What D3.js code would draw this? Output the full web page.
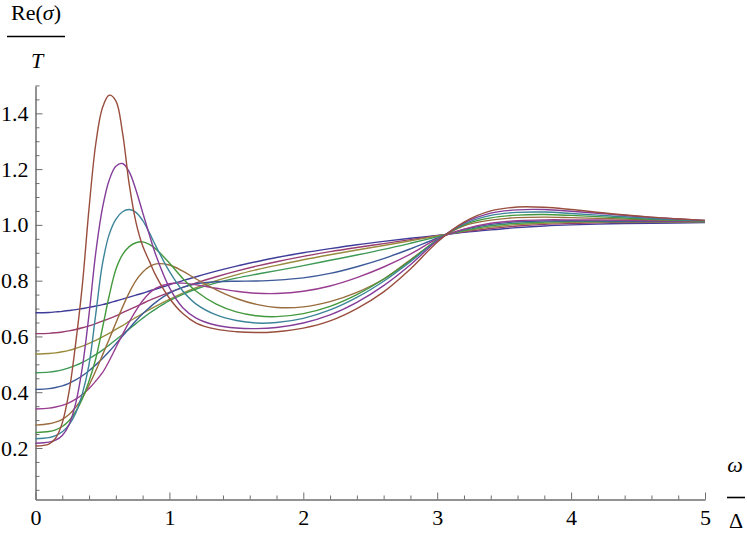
<!DOCTYPE html>
<html><head><meta charset="utf-8">
<script src="https://cdn.jsdelivr.net/npm/d3@7"></script>
<style>html,body{margin:0;padding:0;background:#fff;}svg{display:block;} text{font-family:"Liberation Serif","DejaVu Serif",serif;}</style>
</head><body>
<svg id="chart" width="747" height="533"></svg>
<script>
// x grid (ω/Δ)
const xs = [0,0.1,0.15,0.2,0.25,0.3,0.35,0.4,0.45,0.5,0.55,0.6,0.65,0.7,0.75,0.8,0.85,0.9,1.0,1.1,1.2,1.35,1.5,1.65,1.8,2.0,2.2,2.4,2.6,2.8,3.0,3.2,3.4,3.6,3.8,4.0,4.3,4.6,5.0];
// Re(σ)/T series
const s1 = [0.685,0.686,0.688,0.69,0.693,0.696,0.7,0.704,0.709,0.714,0.72,0.727,0.734,0.741,0.748,0.755,0.763,0.77,0.785,0.8,0.814,0.834,0.852,0.868,0.883,0.9,0.915,0.929,0.941,0.952,0.962,0.973,0.982,0.99,0.996,1.0,1.004,1.006,1.008];
const s2 = [0.61,0.611,0.613,0.616,0.62,0.625,0.631,0.638,0.646,0.655,0.664,0.674,0.685,0.696,0.707,0.718,0.729,0.739,0.758,0.776,0.792,0.814,0.834,0.852,0.868,0.887,0.904,0.919,0.933,0.947,0.961,0.975,0.987,0.996,1.002,1.005,1.008,1.009,1.01];
const s3 = [0.537,0.539,0.541,0.545,0.55,0.557,0.565,0.575,0.586,0.598,0.611,0.625,0.639,0.654,0.668,0.682,0.696,0.709,0.733,0.755,0.775,0.8,0.821,0.839,0.855,0.875,0.893,0.91,0.926,0.943,0.96,0.978,0.992,1.001,1.006,1.009,1.011,1.011,1.011];
const s4 = [0.47,0.472,0.475,0.48,0.487,0.496,0.507,0.52,0.535,0.551,0.569,0.588,0.607,0.627,0.646,0.665,0.683,0.699,0.728,0.751,0.77,0.792,0.809,0.823,0.836,0.854,0.873,0.892,0.912,0.934,0.957,0.98,0.997,1.006,1.01,1.012,1.012,1.012,1.012];
const s5 = [0.41,0.413,0.417,0.423,0.432,0.444,0.459,0.477,0.498,0.521,0.546,0.573,0.601,0.629,0.656,0.681,0.703,0.723,0.755,0.776,0.789,0.796,0.798,0.799,0.802,0.81,0.826,0.85,0.879,0.914,0.952,0.984,1.002,1.011,1.014,1.015,1.014,1.013,1.012];
const s6 = [0.34,0.343,0.347,0.353,0.362,0.375,0.392,0.413,0.44,0.47,0.512,0.56,0.607,0.652,0.693,0.728,0.755,0.773,0.789,0.791,0.785,0.773,0.762,0.755,0.754,0.762,0.781,0.811,0.849,0.895,0.95,0.985,1.006,1.015,1.018,1.018,1.017,1.015,1.013];
const s7 = [0.282,0.287,0.293,0.303,0.32,0.346,0.38,0.425,0.477,0.533,0.59,0.648,0.705,0.757,0.8,0.83,0.85,0.86,0.856,0.834,0.806,0.767,0.736,0.715,0.704,0.706,0.725,0.758,0.806,0.875,0.945,0.997,1.017,1.026,1.028,1.026,1.022,1.018,1.014];
const s8 = [0.255,0.259,0.265,0.277,0.298,0.33,0.377,0.44,0.52,0.63,0.745,0.84,0.893,0.922,0.936,0.939,0.93,0.913,0.863,0.808,0.762,0.716,0.688,0.674,0.671,0.682,0.708,0.75,0.805,0.872,0.946,1.0,1.025,1.035,1.037,1.034,1.027,1.02,1.014];
const s9 = [0.233,0.237,0.244,0.258,0.283,0.325,0.395,0.5,0.68,0.86,0.965,1.02,1.047,1.055,1.045,1.016,0.972,0.923,0.833,0.763,0.716,0.677,0.657,0.648,0.65,0.665,0.695,0.74,0.798,0.868,0.945,1.003,1.034,1.045,1.046,1.041,1.032,1.023,1.015];
const s10 = [0.217,0.221,0.228,0.245,0.283,0.36,0.49,0.68,0.9,1.06,1.16,1.21,1.22,1.19,1.125,1.045,0.965,0.89,0.775,0.703,0.666,0.64,0.63,0.628,0.632,0.648,0.677,0.722,0.782,0.857,0.943,1.007,1.042,1.054,1.055,1.049,1.038,1.027,1.016];
const s11 = [0.207,0.214,0.235,0.29,0.4,0.575,0.785,1.06,1.29,1.42,1.465,1.445,1.33,1.145,1.01,0.925,0.87,0.817,0.737,0.682,0.648,0.626,0.617,0.614,0.617,0.63,0.656,0.7,0.76,0.842,0.938,1.01,1.05,1.064,1.063,1.055,1.04,1.028,1.016];
const seriesList = [s1,s2,s3,s4,s5,s6,s7,s8,s9,s10,s11];
const colors = ["#3f3d99","#993d71","#998b3d","#3d9956","#3d5a99","#993d90","#996d3d","#43993d","#3d8499","#843d99","#994e3d"];
const xMajorTicks = [0,1,2,3,4,5];
const yMajorTicks = [0.2,0.4,0.6,0.8,1.0,1.2,1.4];
const xDomain = [0,5];
const yDomain = [0.0153,1.498];

const svg = d3.select("#chart");
const x = d3.scaleLinear().domain(xDomain).range([35.5,705]);
const y = d3.scaleLinear().domain(yDomain).range([499.5,86]);
const axisColor = "#6e6e6e";
const font = '"Liberation Serif","DejaVu Serif",serif';

// minor ticks
const xMinor = d3.range(0,5.0001,0.2).map(v=>+v.toFixed(2)).filter(v=>!xMajorTicks.includes(v));
const yMinor = d3.range(0.05,1.5001,0.05).map(v=>+v.toFixed(2)).filter(v=>!yMajorTicks.includes(v));

const gxMinor = svg.append("g").attr("transform",`translate(0,${y.range()[0]})`)
  .call(d3.axisBottom(x).tickValues(xMinor).tickSizeInner(-4).tickSizeOuter(0).tickFormat(""));
const gx = svg.append("g").attr("transform",`translate(0,${y.range()[0]})`)
  .call(d3.axisBottom(x).tickValues(xMajorTicks).tickSizeInner(-7).tickSizeOuter(0).tickPadding(10).tickFormat(d3.format("d")));
const gyMinor = svg.append("g").attr("transform",`translate(${x.range()[0]},0)`)
  .call(d3.axisLeft(y).tickValues(yMinor).tickSizeInner(-4).tickSizeOuter(0).tickFormat(""));
const gy = svg.append("g").attr("transform",`translate(${x.range()[0]},0)`)
  .call(d3.axisLeft(y).tickValues(yMajorTicks).tickSizeInner(-7).tickSizeOuter(0).tickPadding(7).tickFormat(d3.format(".1f")));

[gxMinor,gx,gyMinor,gy].forEach(g=>{
  g.attr("font-family",null).attr("font-size",null);
  g.selectAll("path.domain").attr("stroke",axisColor).attr("stroke-width",1);
  g.selectAll(".tick line").attr("stroke",axisColor).attr("stroke-width",1);
  g.selectAll(".tick text").attr("fill","#000").style("font-family",font).style("font-size","22px");
});

// curves
const line = d3.line().x((d)=>x(d[0])).y(d=>y(d[1])).curve(d3.curveCatmullRom.alpha(0.5));
seriesList.forEach((s,i)=>{
  svg.append("path")
    .datum(xs.map((xv,j)=>[xv,s[j]]))
    .attr("fill","none")
    .attr("stroke",colors[i])
    .attr("stroke-width",1.4)
    .attr("d",line);
});

// y title: Re(σ) / T
const yt = svg.append("text").attr("x",36).attr("y",20).attr("text-anchor","middle")
  .style("font-family",font).style("font-size","22px").attr("fill","#000");
yt.append("tspan").text("Re(");
yt.append("tspan").attr("font-style","italic").text("σ");
yt.append("tspan").text(")");
svg.append("line").attr("x1",7).attr("x2",65).attr("y1",36.5).attr("y2",36.5).attr("stroke","#000").attr("stroke-width",1.6);
svg.append("text").attr("x",37).attr("y",68).attr("text-anchor","middle")
  .style("font-family",font).style("font-size","22px").attr("font-style","italic").attr("fill","#000").text("T");

// x title: ω / Δ
svg.append("text").attr("x",735).attr("y",472).attr("text-anchor","middle")
  .style("font-family",font).style("font-size","22px").attr("font-style","italic").attr("fill","#000").text("ω");
svg.append("line").attr("x1",727).attr("x2",745).attr("y1",497.5).attr("y2",497.5).attr("stroke","#000").attr("stroke-width",1.6);
svg.append("text").attr("x",736).attr("y",528).attr("text-anchor","middle")
  .style("font-family",font).style("font-size","22px").attr("fill","#000").text("Δ");
</script>
</body></html>
